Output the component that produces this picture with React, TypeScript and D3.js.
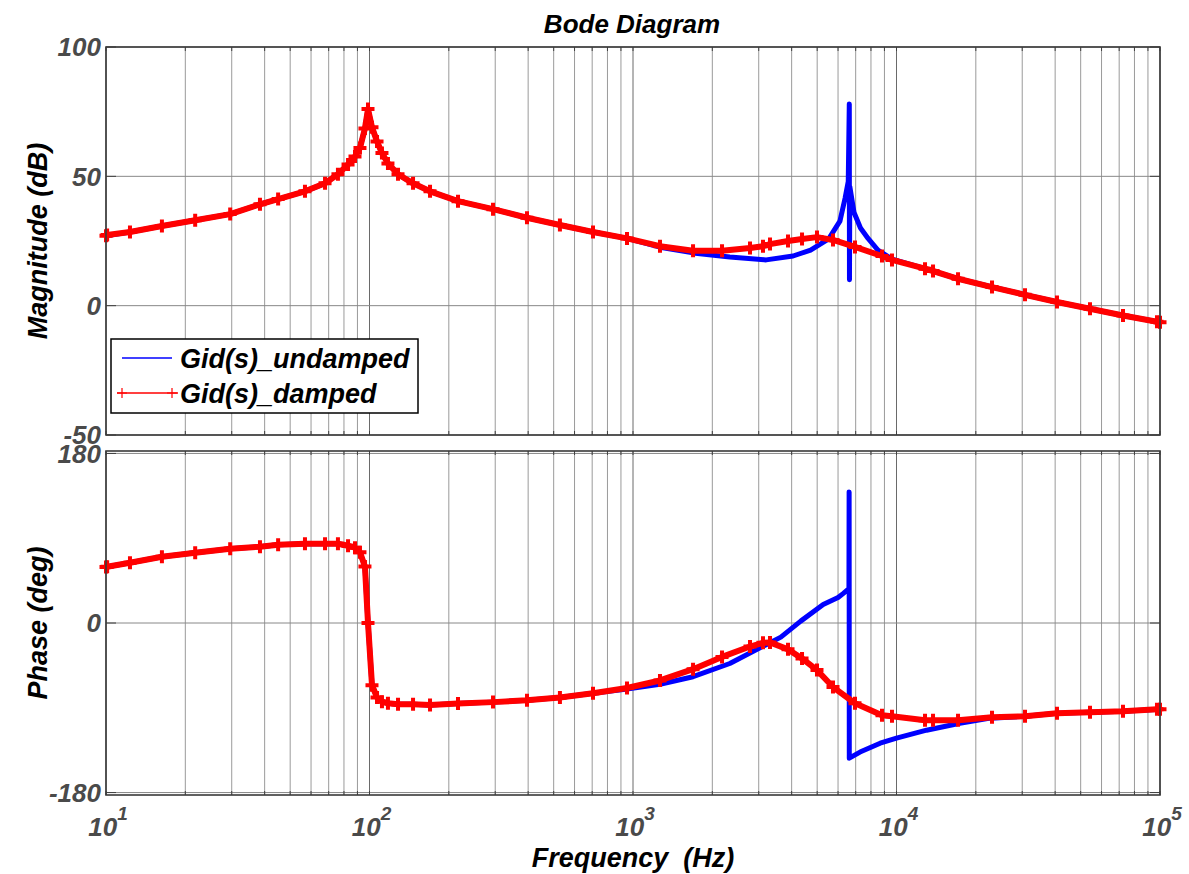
import React from "react";
import * as d3 from "d3";

// ---------- data ----------
const dampedFreq = [10, 10.1, 12.33, 16.3, 21.8, 29.6, 38.4, 45, 56.9, 67.8, 75.9, 82.9, 88.1, 92.0, 96.1, 98.7, 102.2, 106.8, 111.5, 117.5, 128.3, 146.3, 169.7, 216.7, 294.3, 396, 528, 705, 949, 1266, 1690, 2177, 2780, 3114, 3311, 3875, 4380, 4992, 5741, 6958, 8810, 9614, 12830, 13760, 17120, 23040, 30740, 40650, 54240, 72370, 97400, 100000];
const dampedMag = [27.0, 27.3, 28.5, 30.8, 33.0, 35.4, 39.2, 41.2, 44.2, 47.3, 50.8, 54.6, 57.7, 61.0, 68.5, 76.0, 69.0, 63.5, 59.0, 55.0, 50.8, 47.3, 44.2, 40.4, 37.3, 34.0, 31.2, 28.5, 26.0, 23.0, 21.2, 21.2, 22.3, 23.0, 23.8, 25.0, 25.8, 26.5, 25.4, 22.7, 19.2, 17.7, 14.3, 13.4, 10.4, 7.2, 4.2, 1.4, -1.2, -3.8, -6.2, -6.4];
const dampedPhase = [59.5, 59.8, 64.0, 70.4, 74.6, 78.9, 81.0, 83.0, 84.2, 84.2, 84.2, 82.0, 80.0, 75.0, 60.0, 0, -66, -79, -83.5, -85.2, -86.3, -86.3, -87.0, -85.5, -84.0, -82.0, -79.0, -74.6, -69.0, -61.0, -49.0, -36.0, -25.0, -21.0, -20.6, -28.0, -37.6, -50.0, -68.0, -85.2, -97.9, -99.0, -103.2, -103.2, -103.2, -100.0, -99.0, -95.8, -94.8, -93.7, -91.6, -91.5];

const undampedMagFreq = [10, 12.33, 16.3, 21.8, 29.6, 38.4, 45, 56.9, 67.8, 75.9, 82.9, 88.1, 92.0, 96.1, 98.7, 102.2, 106.8, 111.5, 117.5, 128.3, 146.3, 169.7, 216.7, 294.3, 396, 528, 705, 949, 1266, 1690, 2330, 3200, 4050, 4720, 5530, 6100, 6380, 6560, 6620, 6630, 6650, 6900, 7300, 7800, 8500, 9614, 12830, 17120, 23040, 30740, 40650, 54240, 72370, 100000];
const undampedMag = [27.0, 28.5, 30.8, 33.0, 35.4, 39.2, 41.2, 44.2, 47.3, 50.8, 54.6, 57.7, 61.0, 68.5, 76.0, 69.0, 63.5, 59.0, 55.0, 50.8, 47.3, 44.2, 40.4, 37.3, 34.0, 31.2, 28.5, 26.0, 22.6, 20.4, 18.8, 17.7, 19.2, 21.5, 25.8, 32.7, 41.5, 48.0, 78.0, 10.0, 46.0, 36.0, 30.0, 26.0, 21.5, 18.0, 14.3, 10.4, 7.2, 4.2, 1.4, -1.2, -3.8, -6.4];

const undampedPhaseFreq = [10, 12.33, 16.3, 21.8, 29.6, 38.4, 45, 56.9, 67.8, 75.9, 82.9, 88.1, 92.0, 96.1, 98.7, 102.2, 106.8, 111.5, 117.5, 128.3, 146.3, 169.7, 216.7, 294.3, 396, 528, 705, 949, 1266, 1690, 2330, 3200, 3640, 4330, 5270, 6000, 6270, 6600, 6610, 6620, 7270, 8670, 10000, 13000, 17400, 22700, 30740, 40650, 54240, 72370, 100000];
const undampedPhase = [59.5, 64.0, 70.4, 74.6, 78.9, 81.0, 83.0, 84.2, 84.2, 84.2, 82.0, 80.0, 75.0, 60.0, 0, -66, -79, -83.5, -85.2, -86.3, -86.3, -87.0, -85.5, -84.0, -82.0, -79.0, -74.6, -70.0, -65.0, -57.0, -43.0, -23.0, -15.0, 2.0, 19.6, 27.0, 31.2, 36.5, 139.0, -143.5, -137.0, -127.6, -122.3, -113.8, -106.4, -101.0, -99.0, -95.8, -94.8, -93.7, -91.5];

const magTicks = [100, 50, 0, -50];
const phaseTicks = [180, 0, -180];
const decadeExps = [1, 2, 3, 4, 5];
const legendLabels = ["Gid(s)_undamped", "Gid(s)_damped"];
const titleText = "Bode Diagram";
const magLabel = "Magnitude (dB)";
const phaseLabel = "Phase (deg)";
const freqLabel = "Frequency  (Hz)";

// ---------- layout ----------
const W = 1189, H = 874;
const L = 106, R = 1160;
const magTop = 47, magBot = 435;
const phTop = 451, phBot = 795;
const FONT = "'Liberation Sans', Arial, Helvetica, sans-serif";
const BLUE = "#0000ff";
const RED = "#ff0000";

const x = d3.scaleLog().domain([10, 1e5]).range([L, R]);
const yMag = d3.scaleLinear().domain([-50, 100]).range([magBot, magTop]);
const yPh = d3.scaleLinear().domain([-182.6, 182.6]).range([phBot, phTop]);

const minorTicks: number[] = [];
for (let e = 1; e <= 4; e++) for (let k = 1; k <= 9; k++) minorTicks.push(k * Math.pow(10, e));
minorTicks.push(1e5);

function zip(f: number[], v: number[]) {
  return f.map((ff, i) => [ff, v[i]] as [number, number]);
}

function Plus({ cx, cy, s = 6.5, w = 4 }: { cx: number; cy: number; s?: number; w?: number }) {
  return (
    <path d={`M${cx - s},${cy}H${cx + s}M${cx},${cy - s}V${cy + s}`} stroke={RED} strokeWidth={w} fill="none" />
  );
}

function Panel({ top, bot, y, ticks, series }: any) {
  return (
    <g>
      <rect x={L} y={top} width={R - L} height={bot - top} fill="#fff" />
      {minorTicks.map((t, i) => {
        const major = Math.abs(Math.log10(t) - Math.round(Math.log10(t))) < 1e-9;
        return (
          <line key={"g" + i} x1={x(t)} x2={x(t)} y1={top} y2={bot} stroke={major ? "#6a6a6a" : "#9a9a9a"} strokeWidth={1} />
        );
      })}
      {ticks.map((t: number) => (
        <line key={"h" + t} x1={L} x2={R} y1={y(t)} y2={y(t)} stroke="#888" strokeWidth={1} />
      ))}
      {minorTicks.map((t, i) => (
        <g key={"t" + i} stroke="#404040" strokeWidth={1}>
          <line x1={x(t)} x2={x(t)} y1={top} y2={top + 4} />
          <line x1={x(t)} x2={x(t)} y1={bot} y2={bot - 4} />
        </g>
      ))}
      {ticks.map((t: number) => (
        <g key={"yt" + t} stroke="#404040" strokeWidth={1}>
          <line x1={L} x2={L + 10} y1={y(t)} y2={y(t)} />
          <line x1={R} x2={R - 10} y1={y(t)} y2={y(t)} />
        </g>
      ))}
      {series}
      <rect x={L} y={top} width={R - L} height={bot - top} fill="none" stroke="#3a3a3a" strokeWidth={1.6} />
      {ticks.map((t: number) => (
        <text key={"yl" + t} x={L - 5} y={y(t)} dy="0.36em" textAnchor="end" fontFamily={FONT} fontWeight="bold" fontStyle="italic" fontSize={26} fill="#4a4a4a">
          {t}
        </text>
      ))}
    </g>
  );
}

export default function App() {
  const magLine = d3.line<[number, number]>().x((d) => x(d[0])).y((d) => yMag(d[1]));
  const phLine = d3.line<[number, number]>().x((d) => x(d[0])).y((d) => yPh(d[1]));

  const redMag = zip(dampedFreq, dampedMag);
  const redPh = zip(dampedFreq, dampedPhase);
  const blueMag = zip(undampedMagFreq, undampedMag);
  const bluePh = zip(undampedPhaseFreq, undampedPhase);

  const magSeries = (
    <g>
      <path d={magLine(blueMag) || ""} fill="none" stroke={BLUE} strokeWidth={5} strokeLinejoin="round" strokeLinecap="round" />
      <path d={magLine(redMag) || ""} fill="none" stroke={RED} strokeWidth={6} strokeLinejoin="round" />
      {redMag.map((d, i) => (
        <Plus key={i} cx={x(d[0])} cy={yMag(d[1])} />
      ))}
    </g>
  );
  const phSeries = (
    <g>
      <path d={phLine(bluePh) || ""} fill="none" stroke={BLUE} strokeWidth={5} strokeLinejoin="round" strokeLinecap="round" />
      <path d={phLine(redPh) || ""} fill="none" stroke={RED} strokeWidth={6} strokeLinejoin="round" />
      {redPh.map((d, i) => (
        <Plus key={i} cx={x(d[0])} cy={yPh(d[1])} />
      ))}
    </g>
  );

  return (
    <svg width={W} height={H} style={{ position: "absolute", left: 0, top: 0, background: "#fff" }}>
      <rect x={0} y={0} width={W} height={H} fill="#fff" />
      <text x={632} y={33} textAnchor="middle" fontFamily={FONT} fontWeight="bold" fontStyle="italic" fontSize={26} fill="#000">
        {titleText}
      </text>
      <Panel top={magTop} bot={magBot} y={yMag} ticks={magTicks} series={magSeries} />
      <Panel top={phTop} bot={phBot} y={yPh} ticks={phaseTicks} series={phSeries} />

      {decadeExps.map((e) => (
        <text key={e} x={x(Math.pow(10, e)) + 2} y={836} textAnchor="middle" fontFamily={FONT} fontWeight="bold" fontStyle="italic" fontSize={26} fill="#4a4a4a">
          10
          <tspan dy={-16} fontSize={19}>{e}</tspan>
        </text>
      ))}

      <text transform={`translate(47,${(magTop + magBot) / 2}) rotate(-90)`} textAnchor="middle" fontFamily={FONT} fontWeight="bold" fontStyle="italic" fontSize={27} fill="#000">
        {magLabel}
      </text>
      <text transform={`translate(47,${(phTop + phBot) / 2}) rotate(-90)`} textAnchor="middle" fontFamily={FONT} fontWeight="bold" fontStyle="italic" fontSize={27} fill="#000">
        {phaseLabel}
      </text>
      <text x={633} y={867} textAnchor="middle" fontFamily={FONT} fontWeight="bold" fontStyle="italic" fontSize={27} fill="#000" style={{ whiteSpace: "pre" }}>
        {freqLabel}
      </text>

      {/* legend */}
      <g>
        <rect x={111} y={339} width={307} height={74} fill="#fff" stroke="#000" strokeWidth={1.5} />
        <line x1={122} x2={172} y1={358} y2={358} stroke={BLUE} strokeWidth={1.5} />
        <text x={180} y={368} fontFamily={FONT} fontWeight="bold" fontStyle="italic" fontSize={27} fill="#000">
          {legendLabels[0]}
        </text>
        <line x1={117} x2={178} y1={393} y2={393} stroke={RED} strokeWidth={1.5} />
        <Plus cx={122} cy={393} s={5} w={1.2} />
        <Plus cx={172} cy={393} s={5} w={1.2} />
        <text x={180} y={403} fontFamily={FONT} fontWeight="bold" fontStyle="italic" fontSize={27} fill="#000">
          {legendLabels[1]}
        </text>
      </g>
    </svg>
  );
}
